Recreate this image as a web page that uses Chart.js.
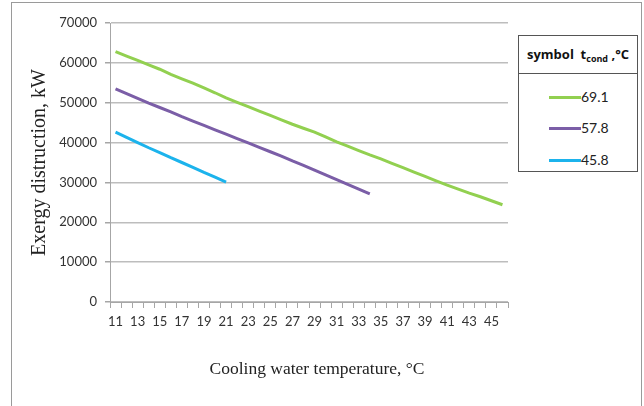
<!DOCTYPE html>
<html>
<head>
<meta charset="utf-8">
<script src="https://cdn.jsdelivr.net/npm/chart.js@4.4.1/dist/chart.umd.min.js"></script>
<style>
  html, body { margin: 0; padding: 0; background: #fff; }
  #wrap { position: relative; width: 644px; height: 406px; overflow: hidden; }
  #frame { position: absolute; left: 11px; top: 2px; width: 631px; height: 410px; border: 1px solid #9a9a9a; box-sizing: border-box; }
  canvas { position: absolute; left: 0; top: 0; }
  #legend { position: absolute; left: 518px; top: 35px; width: 120px; height: 137px; border: 1.5px solid #555; box-sizing: border-box; background: #fff; font-family: "Open Sans", Lato, sans-serif; }
  #legend .hd { height: 38px; border-bottom: 1.5px solid #555; box-sizing: border-box; font-weight: bold; font-size: 13px; color: #111; text-align: center; line-height: 36px; white-space: nowrap; }
  #legend .hd sub { font-size: 9px; font-weight: bold; vertical-align: -3px; line-height: 0; }
  #legend .it { position: absolute; left: 30px; height: 18px; line-height: 18px; font-size: 14px; color: #222; font-family: Lato, "Open Sans", sans-serif; white-space: nowrap; }
  #legend .it span.sw { display: inline-block; width: 32px; height: 3px; vertical-align: middle; position: relative; top: -1px; }
</style>
</head>
<body>
<div id="wrap">
  <div id="frame"></div>
  <canvas id="c" width="644" height="406"></canvas>
  <div id="legend"></div>
</div>
<script>
// Categories: cooling water temperature, °C
const temps = [11,12,13,14,15,16,17,18,19,20,21,22,23,24,25,26,27,28,29,30,31,32,33,34,35,36,37,38,39,40,41,42,43,44,45,46];
// Exergy destruction, kW, for each condensing temperature
const series691 = [62800,61700,60600,59500,58400,57100,56000,54900,53700,52500,51200,50100,49000,47900,46800,45700,44600,43600,42600,41400,40200,39100,38000,36900,35900,34800,33700,32600,31500,30400,29300,28300,27300,26400,25400,24400];
const series578 = [53500,52300,51100,49900,48800,47700,46500,45400,44300,43200,42100,41000,39900,38800,37700,36600,35400,34300,33100,31900,30700,29500,28300,27100];
const series458 = [42600,41300,40000,38700,37500,36200,35000,33800,32500,31300,30100];
const seriesNames = ["69.1","57.8","45.8"];
const seriesColors = ["#92D050","#7B5EA7","#1CB3EC"];
const yTicks = [0,10000,20000,30000,40000,50000,60000,70000];
const xTitle = 'Cooling water temperature, °C';
const yTitle = 'Exergy distruction, kW';

const datasets = [series691, series578, series458].map((d, i) => ({
  label: seriesNames[i],
  data: d,
  borderColor: seriesColors[i],
  backgroundColor: seriesColors[i],
  borderWidth: 3,
  pointRadius: 0,
  tension: 0,
  fill: false
}));

const axisTitles = {
  id: 'axisTitles',
  afterDraw(chart) {
    const c = chart.ctx, a = chart.chartArea;
    c.save();
    c.fillStyle = '#222';
    c.textAlign = 'center';
    c.textBaseline = 'middle';
    c.font = '17.5px "Liberation Serif"';
    c.fillText(xTitle, (a.left + a.right) / 2 + 8, 369);
    c.translate(40, (a.top + a.bottom) / 2);
    c.rotate(-Math.PI / 2);
    c.font = '20px "Liberation Serif"';
    c.fillText(yTitle, 0, 0);
    c.restore();
  }
};

const ctx = document.getElementById('c');
new Chart(ctx, {
  type: 'line',
  data: { labels: temps.map(String), datasets },
  plugins: [axisTitles],
  options: {
    responsive: false,
    animation: false,
    layout: { padding: { left: 52, right: 136, top: 23, bottom: 24 } },
    plugins: { legend: { display: false }, tooltip: { enabled: false } },
    scales: {
      x: {
        type: 'category',
        offset: true,
        grid: { display: true, drawOnChartArea: false, offset: true, drawTicks: true, tickLength: 6, color: '#a6a6a6' },
        border: { display: true, color: '#a6a6a6', width: 1 },
        ticks: {
          autoSkip: false, maxRotation: 0, minRotation: 0, padding: 6,
          color: '#333', font: { family: 'Lato', size: 13 },
          callback: function(v, i) { return i % 2 === 0 ? this.getLabelForValue(v) : ''; }
        },
        afterFit: s => { s.height = 80; }
      },
      y: {
        min: 0, max: 70000,
        afterBuildTicks: s => { s.ticks = yTicks.map(v => ({ value: v })); },
        grid: { color: '#bdbdbd', lineWidth: 1.5, drawTicks: true, tickLength: 5, tickColor: '#a6a6a6' },
        border: { display: true, color: '#a6a6a6', width: 1 },
        ticks: { color: '#333', font: { family: 'Lato', size: 13 }, padding: 8,
                 callback: v => String(v) },
        afterFit: s => { s.width = 58; }
      }
    }
  }
});

// HTML legend built from the same series names/colours
const lg = document.getElementById('legend');
lg.innerHTML = '<div class="hd">symbol&nbsp; t<sub>cond</sub>&nbsp;,°C</div>';
const ys = [52, 83, 115];
seriesNames.forEach((n, i) => {
  const it = document.createElement('div');
  it.className = 'it';
  it.style.top = ys[i] + 'px';
  it.innerHTML = '<span class="sw" style="background:' + seriesColors[i] + '"></span>' + n;
  lg.appendChild(it);
});
</script>
</body>
</html>
